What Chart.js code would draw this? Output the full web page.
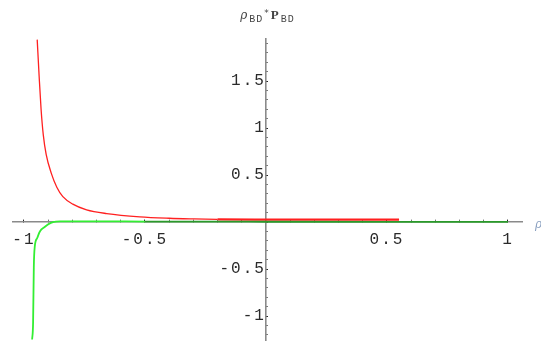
<!DOCTYPE html>
<html>
<head>
<meta charset="utf-8">
<script src="https://cdn.jsdelivr.net/npm/chart.js@4"></script>
<style>
html,body{margin:0;padding:0;background:#fff;}
#wrap{width:541px;height:345px;}
</style>
</head>
<body>
<div id="wrap"><canvas id="c" width="541" height="345"></canvas></div>
<script>
// Red curve (x, y)
const redX = [-0.945,-0.937,-0.929,-0.920,-0.908,-0.887,-0.864,-0.839,-0.798,-0.741,-0.658,-0.521,-0.4,-0.3,-0.2,0,0.3,0.55];
const redY = [1.94,1.55,1.20,0.93,0.72,0.52,0.37,0.27,0.19,0.13,0.09,0.055,0.04,0.033,0.028,0.026,0.025,0.025];
// Green curve (x, y)
const greenX = [-0.966,-0.962,-0.959,-0.955,-0.945,-0.934,-0.913,-0.893,-0.879,-0.85,-0.7,-0.5,0,0.5,1.0];
const greenY = [-1.25,-1.07,-0.48,-0.26,-0.17,-0.10,-0.05,-0.014,0.0,0.006,0.007,0.005,0.003,0.002,0.002];
// Axis ranges / tick labels
const xRange = [-1.045, 1.058];
const yRange = [-1.255, 1.947];
const xTickLabels = [-1, -0.5, 0.5, 1];
const yTickLabels = [-1, -0.5, 0.5, 1, 1.5];
const axisTitle = ['ρ', 'BD', '*', 'P', 'BD'];

function isLabelled(v, list){ return list.some(t => Math.abs(t - v) < 1e-6); }
function fmt(v){ return String(Math.round(v*10)/10); }
function isMajor(v){ return Math.abs(v*2 - Math.round(v*2)) < 1e-6; }
function noPad(scale){ scale.paddingTop = 0; scale.paddingBottom = 0; scale.paddingLeft = 0; scale.paddingRight = 0; }

const spacingPlugin = {
  id: 'spacing',
  beforeDraw(chart){ chart.ctx.letterSpacing = '2px'; },
  beforeLayout(chart){ chart.ctx.letterSpacing = '2px'; }
};

const titlePlugin = {
  id: 'axisTitle',
  afterDraw(chart){
    const ctx = chart.ctx;
    const xs = chart.scales.x, ys = chart.scales.y;
    const x0 = xs.getPixelForValue(0);
    const top = chart.chartArea.top;
    const parts = [
      {t: axisTitle[0], f: 'italic 12px "DejaVu Serif"', dy: 0},
      {t: axisTitle[1], f: '10px "Liberation Mono"', dy: 3},
      {t: axisTitle[2], f: '9px "DejaVu Sans"', dy: -3},
      {t: axisTitle[3], f: 'bold 13px "Liberation Serif"', dy: 0},
      {t: axisTitle[4], f: '10px "Liberation Mono"', dy: 3}
    ];
    ctx.save();
    ctx.letterSpacing = '1px';
    ctx.fillStyle = '#444';
    ctx.textBaseline = 'alphabetic';
    let w = 0;
    parts.forEach(p => { ctx.font = p.f; p.w = ctx.measureText(p.t).width + 1; w += p.w; });
    let x = x0 + 2 - w/2;
    const base = top - 20;
    parts.forEach(p => { ctx.font = p.f; ctx.fillText(p.t, x, base + p.dy); x += p.w; });
    // x-axis label, clipped at right edge
    ctx.font = 'italic 12px "DejaVu Serif"';
    ctx.fillStyle = '#8aa0c0';
    ctx.fillText('ρ', chart.chartArea.right + 13, ys.getPixelForValue(0) + 6);
    ctx.restore();
  }
};

const ctx = document.getElementById('c').getContext('2d');
new Chart(ctx, {
  type: 'scatter',
  data: {
    datasets: [
      {
        data: greenX.map((x,i)=>({x, y: greenY[i]})),
        showLine: true, borderColor: '#33ee33', borderWidth: 1.8,
        pointRadius: 0, cubicInterpolationMode: 'monotone',
        segment: { borderColor: c => (c.p0.parsed.x >= -0.5 ? '#2a9a2a' : undefined) }
      },
      {
        data: redX.map((x,i)=>({x, y: redY[i]})),
        showLine: true, borderColor: '#ff2020', borderWidth: 1.3,
        pointRadius: 0, cubicInterpolationMode: 'monotone',
        segment: { borderWidth: c => (c.p0.parsed.x >= -0.25 ? 2.2 : undefined) }
      }
    ]
  },
  options: {
    responsive: false,
    animation: false,
    devicePixelRatio: 1,
    layout: { padding: {left: 13, right: 19, top: 39, bottom: 5} },
    plugins: { legend: {display: false}, tooltip: {enabled: false}, title: {display: false} },
    scales: {
      x: {
        type: 'linear', position: {y: 0},
        min: xRange[0], max: xRange[1],
        afterFit: noPad,
        border: { color: '#8a8a8a', width: 1.6 },
        grid: { drawOnChartArea: false, drawTicks: true, tickLength: -3,
                tickColor: c => isMajor(c.tick.value) ? '#222' : '#777', tickWidth: 1 },
        ticks: {
          stepSize: 0.1, includeBounds: false, autoSkip: false, maxRotation: 0,
          padding: 11,
          font: { family: '"Liberation Mono"', size: 16 },
          color: '#2a2a2a',
          callback: v => isLabelled(v, xTickLabels) ? fmt(v) : ''
        }
      },
      y: {
        type: 'linear', position: {x: 0},
        min: yRange[0], max: yRange[1],
        afterFit: noPad,
        border: { color: '#8a8a8a', width: 1.6 },
        grid: { drawOnChartArea: false, drawTicks: true, tickLength: -3,
                tickColor: c => isMajor(c.tick.value) ? '#222' : '#777', tickWidth: 1 },
        ticks: {
          stepSize: 0.1, includeBounds: false, autoSkip: false,
          padding: 11,
          font: { family: '"Liberation Mono"', size: 16 },
          color: '#2a2a2a',
          callback: v => isLabelled(v, yTickLabels) ? fmt(v) : ''
        }
      }
    }
  },
  plugins: [spacingPlugin, titlePlugin]
});
</script>
</body>
</html>
